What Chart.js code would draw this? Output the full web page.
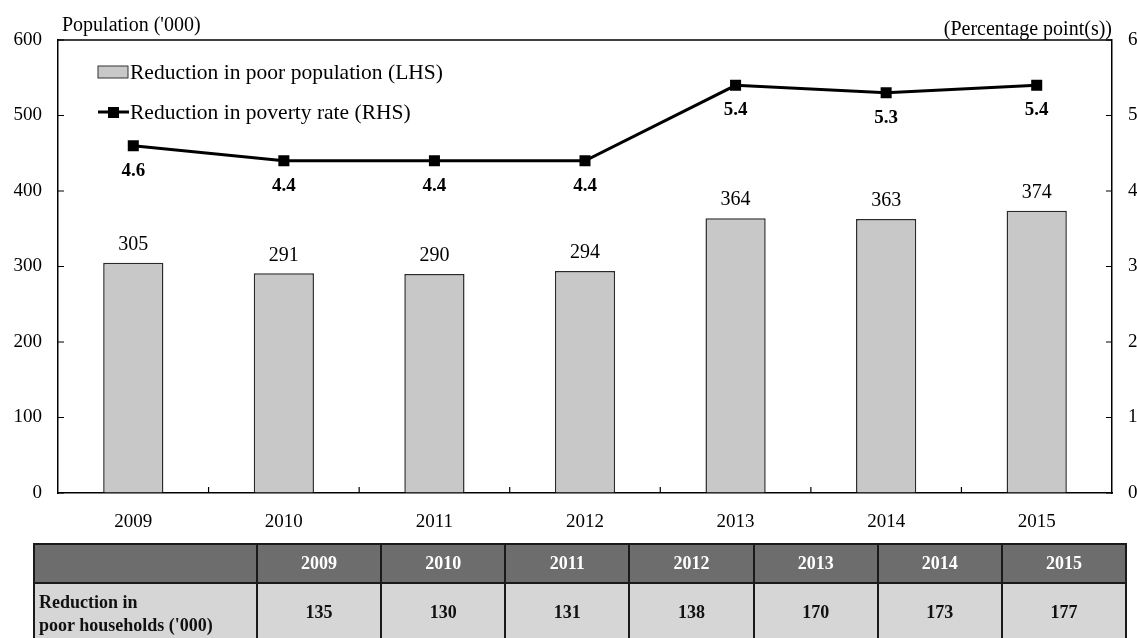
<!DOCTYPE html>
<html>
<head>
<meta charset="utf-8">
<script src="https://cdn.jsdelivr.net/npm/chart.js@4.4.0/dist/chart.umd.min.js"></script>
<style>
html,body{margin:0;padding:0;background:#fff;overflow:hidden;width:1137px;height:638px;}
#wrap{position:absolute;left:0;top:0;width:1145px;height:545px;}
#tbl{position:absolute;left:33px;top:543px;border-collapse:collapse;table-layout:fixed;width:1094px;font-family:"Liberation Serif","Times New Roman",serif;font-weight:bold;}
#tbl td{border:2px solid #1a1a1a;text-align:center;padding:0;}
#tbl tr.h td{background:#6d6d6d;color:#fff;height:37px;font-size:18px;}
#tbl tr.d td{background:#d6d6d6;color:#111;height:64px;font-size:18px;}
#tbl tr.d td.lab{text-align:left;padding-left:4px;line-height:23px;font-size:18px;padding-top:2px;vertical-align:top;padding-top:7px;}
</style>
</head>
<body>
<div id="wrap"><canvas id="c" width="1145" height="545"></canvas></div>
<table id="tbl"></table>
<script>
// ---- data ----
const years = ['2009', '2010', '2011', '2012', '2013', '2014', '2015'];
const poorPopulation = [305, 291, 290, 294, 364, 363, 374];          // '000, LHS
const povertyRateReduction = [4.6, 4.4, 4.4, 4.4, 5.4, 5.3, 5.4];     // percentage points, RHS
const poorHouseholds = [135, 130, 131, 138, 170, 173, 177];          // '000, table row
const leftTicks = [0, 100, 200, 300, 400, 500, 600];
const rightTicks = [0, 1, 2, 3, 4, 5, 6];
const barSeriesName = 'Reduction in poor population (LHS)';
const lineSeriesName = 'Reduction in poverty rate (RHS)';
const tableRowName = ['Reduction in', "poor households ('000)"];
const leftAxisTitle = "Population ('000)";
const rightAxisTitle = '(Percentage point(s))';

const SERIF = '"Liberation Serif","Times New Roman",serif';

// ---- table ----
(function buildTable(){
  const t = document.getElementById('tbl');
  let html = '<colgroup><col style="width:223px">';
  years.forEach(() => html += '<col>');
  html += '</colgroup><tr class="h"><td></td>';
  years.forEach(y => html += '<td>' + y + '</td>');
  html += '</tr><tr class="d"><td class="lab">' + tableRowName.join('<br>') + '</td>';
  poorHouseholds.forEach(v => html += '<td style="vertical-align:top;padding-top:18px">' + v + '</td>');
  html += '</tr>';
  t.innerHTML = html;
})();

// ---- custom drawing plugin ----
const decor = {
  id: 'decor',
  afterDraw(chart) {
    const ctx = chart.ctx;
    const ca = chart.chartArea;
    const sx = chart.scales.x, sy = chart.scales.y, sy1 = chart.scales.y1;
    ctx.save();
    ctx.strokeStyle = '#000';
    ctx.lineWidth = 1.5;
    // top frame line
    ctx.beginPath();
    ctx.moveTo(ca.left, ca.top);
    ctx.lineTo(ca.right, ca.top);
    ctx.stroke();
    // inward ticks
    ctx.lineWidth = 1.2;
    ctx.beginPath();
    sy.ticks.forEach(t => { const y = sy.getPixelForValue(t.value); ctx.moveTo(ca.left, y); ctx.lineTo(ca.left + 6, y); });
    sy1.ticks.forEach(t => { const y = sy1.getPixelForValue(t.value); ctx.moveTo(ca.right - 6, y); ctx.lineTo(ca.right, y); });
    for (let i = 1; i < years.length; i++) {
      const x = (sx.getPixelForTick(i - 1) + sx.getPixelForTick(i)) / 2;
      ctx.moveTo(x, ca.bottom); ctx.lineTo(x, ca.bottom - 6);
    }
    ctx.stroke();

    // bar value labels
    const barMeta = chart.getDatasetMeta(1);
    ctx.fillStyle = '#000';
    ctx.textAlign = 'center';
    ctx.textBaseline = 'middle';
    ctx.font = '20px ' + SERIF;
    barMeta.data.forEach((el, i) => ctx.fillText(String(poorPopulation[i]), el.x, el.y - 18));

    // line value labels
    const lineMeta = chart.getDatasetMeta(0);
    ctx.font = 'bold 19px ' + SERIF;
    lineMeta.data.forEach((el, i) => ctx.fillText(povertyRateReduction[i].toFixed(1), el.x, el.y + 25));

    // axis titles
    ctx.font = '20px ' + SERIF;
    ctx.textAlign = 'left';
    ctx.fillText(leftAxisTitle, ca.left + 4, 26);
    ctx.textAlign = 'right';
    ctx.fillText(rightAxisTitle, ca.right, 30);

    // legend
    const lx = ca.left + 40;
    const ly1 = ca.top + 32, ly2 = ca.top + 72;
    ctx.fillStyle = '#c8c8c8';
    ctx.fillRect(lx, ly1 - 6, 30, 12);
    ctx.strokeStyle = '#333';
    ctx.lineWidth = 1;
    ctx.strokeRect(lx, ly1 - 6, 30, 12);
    ctx.strokeStyle = '#000';
    ctx.lineWidth = 3;
    ctx.beginPath(); ctx.moveTo(lx, ly2); ctx.lineTo(lx + 31, ly2); ctx.stroke();
    ctx.fillStyle = '#000';
    ctx.fillRect(lx + 10, ly2 - 5, 11, 11);
    ctx.font = '21.5px ' + SERIF;
    ctx.textAlign = 'left';
    ctx.fillText(barSeriesName, lx + 32, ly1 + 1);
    ctx.fillText(lineSeriesName, lx + 32, ly2 + 1);
    ctx.restore();
  }
};

const tickFont = { family: SERIF, size: 19 };

new Chart(document.getElementById('c'), {
  type: 'bar',
  data: {
    labels: years,
    datasets: [
      {
        type: 'line', label: lineSeriesName, data: povertyRateReduction, yAxisID: 'y1',
        borderColor: '#000', borderWidth: 3, tension: 0,
        pointStyle: 'rect', pointRadius: 7.8, pointBackgroundColor: '#000', pointBorderColor: '#000', pointBorderWidth: 0,
        order: 0
      },
      {
        type: 'bar', label: barSeriesName, data: poorPopulation, yAxisID: 'y',
        backgroundColor: '#c8c8c8', borderColor: '#2a2a2a', borderWidth: 1.5,
        barPercentage: 0.4, categoryPercentage: 1, order: 1
      }
    ]
  },
  options: {
    responsive: false, animation: false, devicePixelRatio: 1,
    layout: { padding: { top: 40, left: 0, right: 0, bottom: 0 } },
    plugins: { legend: { display: false }, tooltip: { enabled: false } },
    scales: {
      x: {
        offset: true,
        grid: { display: false },
        border: { display: true, color: '#000', width: 1.5 },
        ticks: { font: tickFont, color: '#000', padding: 10, maxRotation: 0, autoSkip: false },
        afterFit(s) { s.height = 52; }
      },
      y: {
        position: 'left', min: 0, max: 600,
        afterBuildTicks(s) { s.ticks = leftTicks.map(v => ({ value: v })); },
        ticks: { font: tickFont, color: '#000', padding: 16 },
        grid: { drawOnChartArea: false, drawTicks: false },
        border: { display: true, color: '#000', width: 1.5 },
        afterFit(s) { s.width = 58; }
      },
      y1: {
        position: 'right', min: 0, max: 6,
        afterBuildTicks(s) { s.ticks = rightTicks.map(v => ({ value: v })); },
        ticks: { font: tickFont, color: '#000', padding: 16 },
        grid: { drawOnChartArea: false, drawTicks: false },
        border: { display: true, color: '#000', width: 1.5 },
        afterFit(s) { s.width = 33; }
      }
    }
  },
  plugins: [decor]
});
</script>
</body>
</html>
